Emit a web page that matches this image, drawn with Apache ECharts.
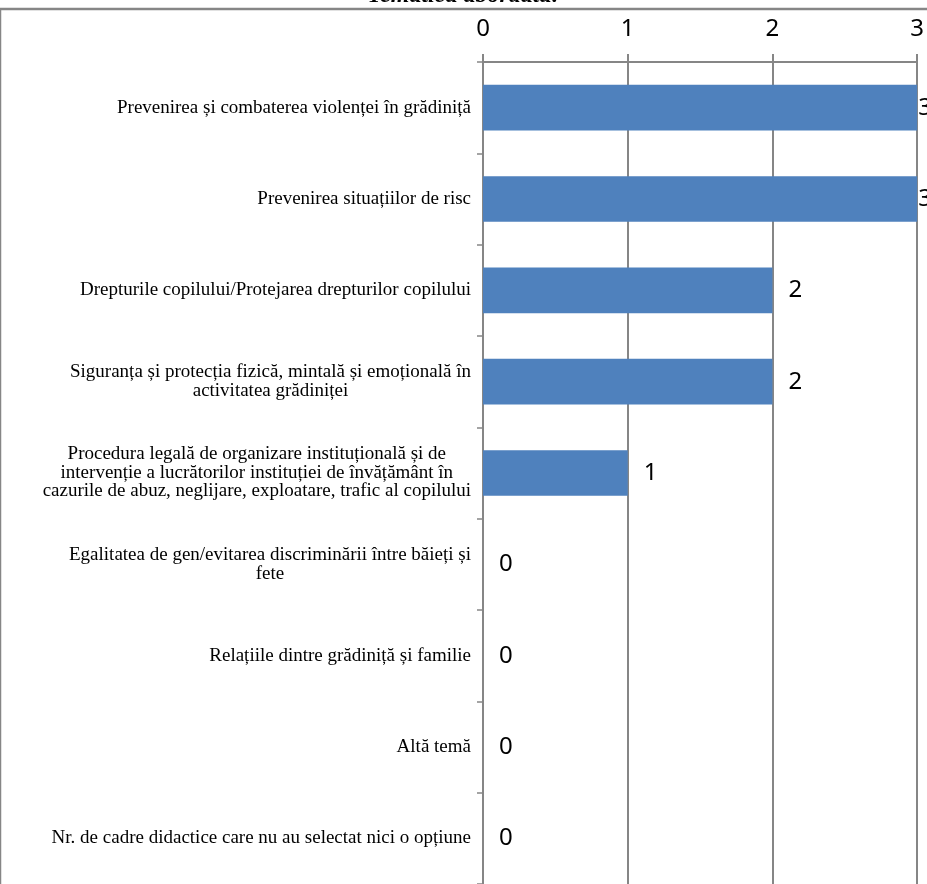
<!DOCTYPE html>
<html>
<head>
<meta charset="utf-8">
<script src="https://cdn.jsdelivr.net/npm/echarts@6/dist/echarts.min.js"></script>
<style>html,body{margin:0;padding:0;background:#fff}#c{width:927px;height:884px}</style>
</head>
<body>
<div id="c"></div>
<script>
const titleText = 'Tematica abordată:';
const categories = [
  'Prevenirea și combaterea violenței în grădiniță',
  'Prevenirea situațiilor de risc',
  'Drepturile copilului/Protejarea drepturilor copilului',
  'Siguranța și protecția fizică, mintală și emoțională în\nactivitatea grădiniței',
  'Procedura legală de organizare instituțională și de\nintervenție a lucrătorilor instituției de învățământ în\ncazurile de abuz, neglijare, exploatare, trafic al copilului',
  'Egalitatea de gen/evitarea discriminării între băieți și\nfete',
  'Relațiile dintre grădiniță și familie',
  'Altă temă',
  'Nr. de cadre didactice care nu au selectat nici o opțiune'
];
const values = [3, 3, 2, 2, 1, 0, 0, 0, 0];
const xTicks = [0, 1, 2, 3];

const chart = echarts.init(document.getElementById('c'));
const maxVal = xTicks[xTicks.length - 1];
chart.setOption({
  animation: false,
  title: {
    text: titleText,
    left: 'center',
    top: -21,
    textStyle: { fontFamily: 'Liberation Serif', fontSize: 24, fontWeight: 'bold', fontStyle: 'italic', color: '#000' }
  },
  graphic: [{
    type: 'rect',
    shape: { x: 0, y: 9, width: 1200, height: 1200 },
    style: { fill: 'none', stroke: '#868686', lineWidth: 2.5 },
    silent: true
  }],
  grid: { left: 483, top: 62, width: 435, height: 825 },
  xAxis: {
    type: 'value',
    position: 'top',
    min: xTicks[0],
    max: maxVal,
    interval: 1,
    axisLine: { show: true, lineStyle: { color: '#868686', width: 2 } },
    axisTick: { show: true, length: 8, lineStyle: { color: '#868686', width: 2 } },
    splitLine: { show: true, lineStyle: { color: '#868686', width: 2 } },
    axisLabel: { margin: 21, fontFamily: 'Noto Sans', fontSize: 24, color: '#000',
      formatter: v => String(v) }
  },
  yAxis: {
    type: 'category',
    inverse: true,
    data: categories,
    axisLine: { show: true, lineStyle: { color: '#868686', width: 2 } },
    axisTick: { show: true, length: 6, lineStyle: { color: '#868686', width: 1.5 } },
    axisLabel: {
      margin: 12,
      color: '#000',
      fontFamily: 'Liberation Serif',
      fontSize: 19,
      lineHeight: 18.5,
      formatter: s => s.split('\n').map(l => '{c|' + l + '}').join('\n'),
      rich: { c: { align: 'center', fontFamily: 'Liberation Serif', fontSize: 19, lineHeight: 18.5, color: '#000' } }
    }
  },
  series: [{
    type: 'bar',
    barWidth: '50%',
    itemStyle: { color: '#4F81BD' },
    data: values.map(v => ({
      value: v,
      label: { distance: v === maxVal ? 1 : 16 }
    })),
    label: {
      show: true,
      position: 'right',
      fontFamily: 'Noto Sans',
      fontSize: 24,
      color: '#000'
    }
  }]
});
</script>
</body>
</html>
